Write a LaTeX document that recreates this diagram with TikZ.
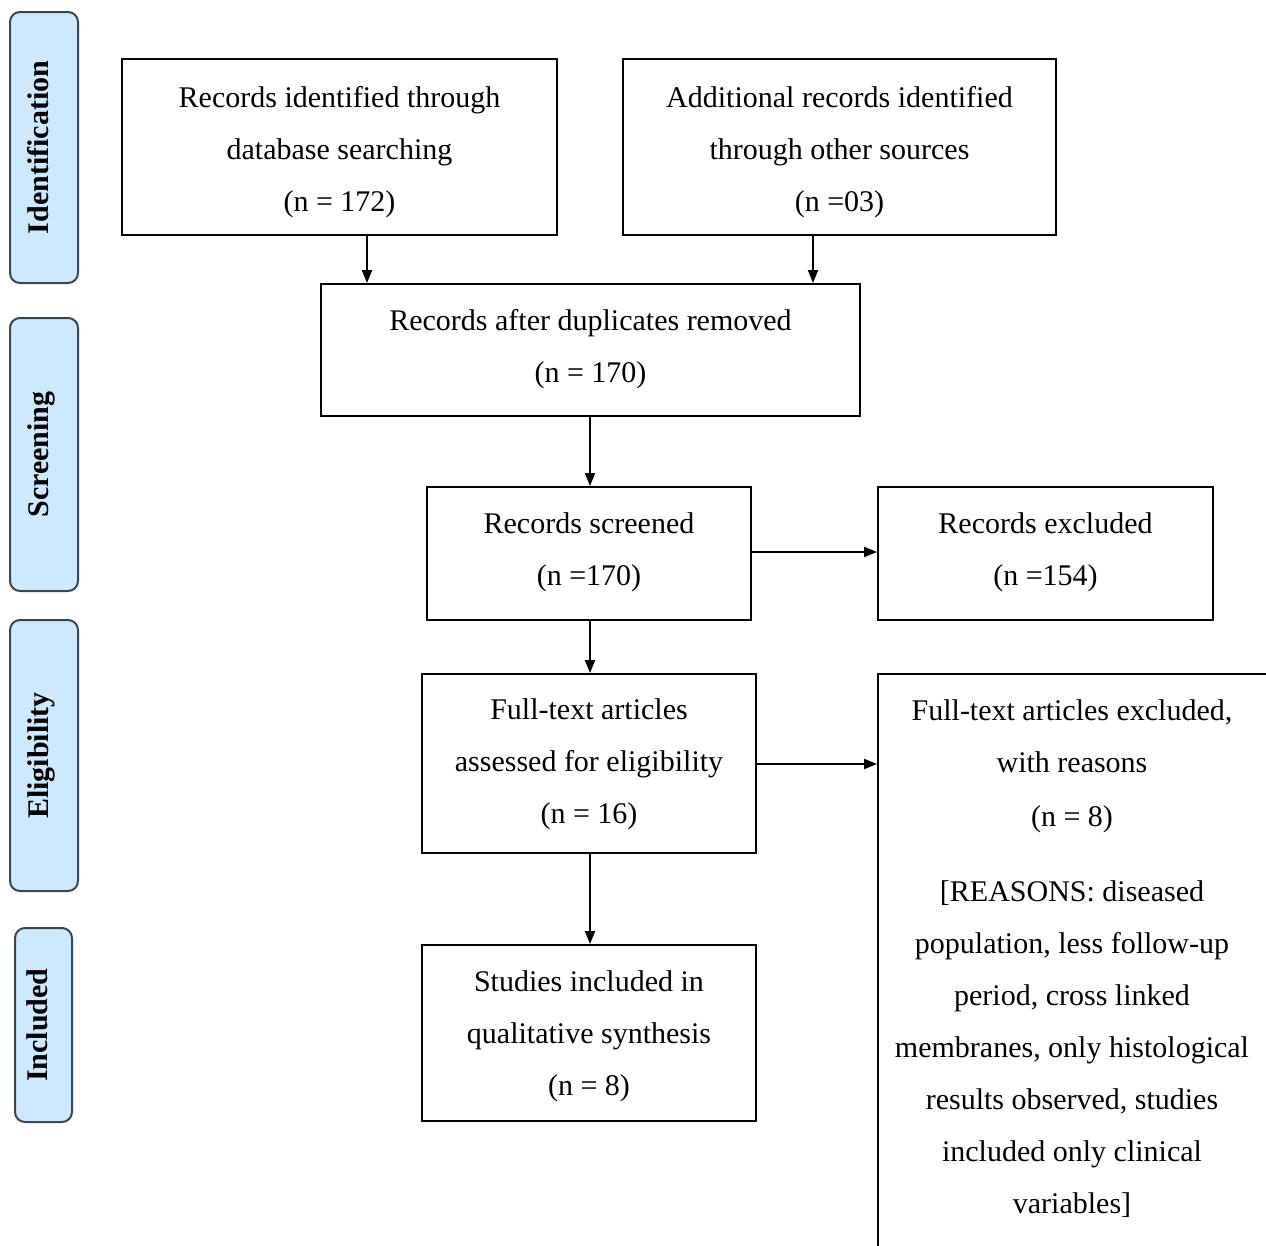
\documentclass[tikz,border=0pt]{standalone}
\usepackage{fontspec}
\setmainfont{Liberation Serif}
\usetikzlibrary{arrows.meta}
\definecolor{sidefill}{HTML}{CDE9FF}
\definecolor{sideline}{HTML}{3C4650}
\newcommand{\btext}[2]{\raisebox{#1}[0pt][0pt]{\begin{tabular}{@{}c@{}}#2\end{tabular}}}
\newcommand{\stext}[1]{\raisebox{-4pt}[0pt][0pt]{#1}}
\begin{document}
\begin{tikzpicture}[x=1pt,y=-1pt,
  box/.style={draw=black,line width=2pt,fill=white,inner sep=0pt,
    font=\fontsize{30}{52}\selectfont},
  sidebox/.style={draw=sideline,line width=2pt,fill=sidefill,rounded corners=10pt,
    rotate=90,inner sep=0pt,font=\fontsize{30}{36}\selectfont\bfseries},
  arr/.style={line width=2pt,-{Triangle[length=13pt,width=10pt]}}]
\useasboundingbox (0,0) rectangle (1266,1245);
% side labels
\node[sidebox,minimum width=271pt,minimum height=68pt] (s1) at (44,147.5) {\stext{Identification}};
\node[sidebox,minimum width=273pt,minimum height=68pt] (s2) at (44,454.5) {\stext{Screening}};
\node[sidebox,minimum width=271pt,minimum height=68pt] (s3) at (44,755.5) {\stext{Eligibility}};
\node[sidebox,minimum width=194pt,minimum height=57pt] (s4) at (43.5,1025) {\stext{Included}};
% boxes
\node[box,minimum width=435pt,minimum height=176pt] (b1) at (339.5,147)
  {\btext{-8.6pt}{Records identified through\\database searching\\(n = 172)}};
\node[box,minimum width=433pt,minimum height=176pt] (b2) at (839.5,147)
  {\btext{-8.6pt}{Additional records identified\\through other sources\\(n =03)}};
\node[box,minimum width=539pt,minimum height=132pt] (b3) at (590.5,350)
  {\btext{-2.1pt}{Records after duplicates removed\\(n = 170)}};
\node[box,minimum width=324pt,minimum height=133pt] (b4) at (589,553.5)
  {\btext{-1.6pt}{Records screened\\(n =170)}};
\node[box,minimum width=335pt,minimum height=133pt] (b5) at (1045.5,553.5)
  {\btext{-1.6pt}{Records excluded\\(n =154)}};
\node[box,minimum width=334pt,minimum height=179pt] (b6) at (589,763.5)
  {\btext{-4.1pt}{Full-text articles\\assessed for eligibility\\(n = 16)}};
\node[box,minimum width=334pt,minimum height=176pt] (b8) at (589,1033)
  {\btext{-6.1pt}{Studies included in\\qualitative synthesis\\(n = 8)}};
\node[box,minimum width=397pt,minimum height=581pt] (b7) at (1076.5,964.5)
  {\hspace*{-9pt}\btext{1.9pt}{Full-text articles excluded,\\with reasons\\[2pt](n = 8)\\[23pt]
  [REASONS: diseased\\population, less follow-up\\period, cross linked\\membranes, only histological\\results observed, studies\\included only clinical\\variables]}};
% arrow guides
\coordinate (c1) at (367,0);
\coordinate (c2) at (813,0);
\coordinate (c3) at (590,0);
\coordinate (r1) at (0,552);
\coordinate (r2) at (0,764);
% arrows
\draw[arr] (b1.south -| c1) -- (b3.north -| c1);
\draw[arr] (b2.south -| c2) -- (b3.north -| c2);
\draw[arr] (b3.south -| c3) -- (b4.north -| c3);
\draw[arr] (b4.east |- r1) -- (b5.west |- r1);
\draw[arr] (b4.south -| c3) -- (b6.north -| c3);
\draw[arr] (b6.east |- r2) -- (b7.west |- r2);
\draw[arr] (b6.south -| c3) -- (b8.north -| c3);
\end{tikzpicture}
\end{document}
